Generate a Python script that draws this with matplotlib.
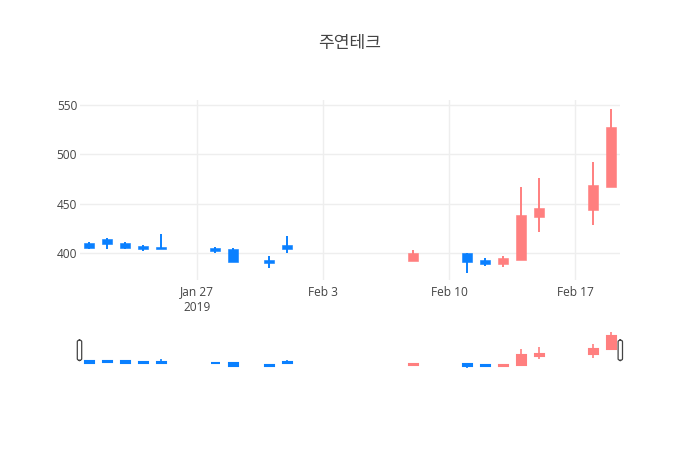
import numpy as np
import pandas as pd
import matplotlib
matplotlib.use("Agg")
import matplotlib.pyplot as plt
import matplotlib.dates as mdates
from matplotlib.patches import FancyBboxPatch

plt.rcParams['font.family'] = ['Open Sans', 'Noto Sans CJK KR', 'DejaVu Sans']

title = "주연테크"
dates = ['2019-01-21', '2019-01-22', '2019-01-23', '2019-01-24', '2019-01-25',
         '2019-01-28', '2019-01-29', '2019-01-31', '2019-02-01', '2019-02-08',
         '2019-02-11', '2019-02-12', '2019-02-13', '2019-02-14', '2019-02-15',
         '2019-02-18', '2019-02-19']
open_ = [410, 414, 410, 407, 406, 405, 404, 393, 408, 392, 400, 393, 389, 393, 437, 444, 467]
high = [411, 415, 411, 408, 419, 406, 405, 397, 417, 403, 400, 395, 397, 467, 476, 492, 546]
low = [404, 404, 404, 402, 404, 400, 391, 385, 400, 392, 380, 387, 386, 393, 421, 428, 467]
close = [405, 409, 405, 404, 404, 402, 391, 390, 404, 400, 391, 389, 395, 439, 446, 469, 528]
tick_dates = ['2019-01-27', '2019-02-03', '2019-02-10', '2019-02-17']
tick_labels = ['Jan 27\n2019', 'Feb 3', 'Feb 10', 'Feb 17']
yticks = [400, 450, 500, 550]

up_color = '#ff7f7f'
down_color = '#0a80ff'

x = mdates.date2num(pd.to_datetime(dates))
o = np.array(open_)
c = np.array(close)
colors = [up_color if cc >= oo else down_color for oo, cc in zip(o, c)]
xlim = (x[0] - 0.5, x[-1] + 0.5)

fig = plt.figure(figsize=(7, 4.5), dpi=100)
W, H = 700, 450
ax = fig.add_axes([80 / W, (H - 280) / H, 540 / W, 180 / H])
sl = fig.add_axes([80 / W, (H - 370) / H, 540 / W, 40 / H])


def draw_candles(a, lw, edge, width):
    a.vlines(x, low, high, colors=colors, linewidth=lw, zorder=2)
    a.bar(x, c - o, bottom=o, width=width, color=colors, edgecolor=colors,
          linewidth=edge, zorder=3)


draw_candles(ax, 1.4, 0.4, 0.6)
ax.set_xlim(*xlim)
ax.set_ylim(372.6, 555.3)
ax.set_yticks(yticks)
ax.set_xticks(mdates.date2num(pd.to_datetime(tick_dates)))
ax.set_xticklabels(tick_labels)
ax.grid(True, color='#eeeeee', linewidth=1, zorder=0)
ax.set_axisbelow(True)
for s in ax.spines.values():
    s.set_visible(False)
ax.tick_params(length=0, labelsize=8.6, labelcolor='#444444')
ax.tick_params(axis='y', pad=2)
ax.tick_params(axis='x', pad=4)

draw_candles(sl, 1.2, 1.5, 0.5)
sl.set_xlim(*xlim)
sl.set_ylim(370.9, 553.8)
sl.set_xticks([])
sl.set_yticks([])
for s in sl.spines.values():
    s.set_visible(False)

# range slider handles
for cx in (79.5, 620.3):
    fig.patches.append(FancyBboxPatch(((cx - 2.2) / W, (H - 360.5) / H), 4.4 / W, 20.5 / H,
                                      boxstyle="round,pad=0,rounding_size=0.004",
                                      transform=fig.transFigure, facecolor='white',
                                      edgecolor='#444444', linewidth=0.9, zorder=5))

fig.text(0.5, (H - 43) / H, title, ha='center', va='center', fontsize=12.3,
         color='#444444', family=['Noto Sans CJK KR', 'DejaVu Sans'])

fig.savefig('out.png', dpi=100)
